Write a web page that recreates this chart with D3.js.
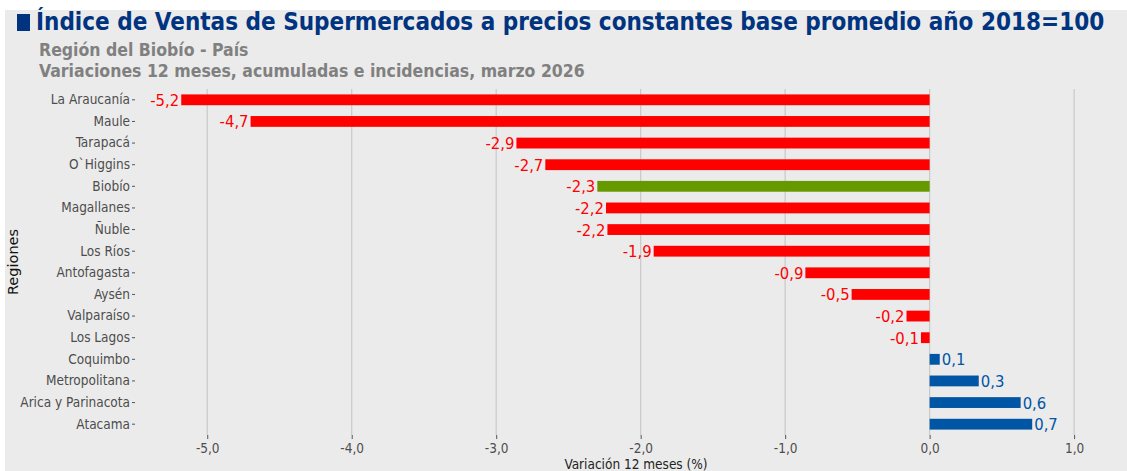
<!DOCTYPE html>
<html>
<head>
<meta charset="utf-8">
<script src="https://cdn.jsdelivr.net/npm/d3@7"></script>
<style>
  body { margin: 0; background: #ffffff; }
  svg { display: block; }
  .cond { font-family: "DejaVu Sans Condensed", "DejaVu Sans", sans-serif; }
</style>
</head>
<body>
<svg id="chart"></svg>
<script>
// data
var regions = ["La Araucanía", "Maule", "Tarapacá", "O`Higgins", "Biobío", "Magallanes", "Ñuble",
    "Los Ríos", "Antofagasta", "Aysén", "Valparaíso", "Los Lagos", "Coquimbo", "Metropolitana",
    "Arica y Parinacota", "Atacama"];
var values = [-5.18, -4.70, -2.86, -2.66, -2.30, -2.24, -2.23, -1.91, -0.86, -0.54, -0.16, -0.06,
    0.07, 0.34, 0.63, 0.71];
var highlight = "Biobío";
var xTicks = [-5, -4, -3, -2, -1, 0, 1];

var width = 1127, height = 471;
var margin = {top: 89, right: 24, bottom: 36, left: 135};

// comma decimals, plain hyphen for minus
var fmt = d => d3.format(".1f")(d).replace("−", "-").replace(".", ",");

var svg = d3.select("#chart")
    .attr("width", width)
    .attr("height", height);

// gray background
svg.append("rect")
    .attr("x", 5).attr("y", 10)
    .attr("width", width - 5).attr("height", height - 10)
    .attr("fill", "#ebebeb");

var x = d3.scaleLinear()
    .domain([-5.5, 1.2])
    .range([margin.left, width - margin.right]);

var y = d3.scaleBand()
    .domain(regions)
    .range([margin.top, height - margin.bottom])
    .paddingInner(0.5)
    .paddingOuter(0.25);

// vertical gridlines
svg.append("g")
    .selectAll("line")
    .data(xTicks)
    .join("line")
    .attr("x1", d => x(d)).attr("x2", d => x(d))
    .attr("y1", margin.top).attr("y2", height - margin.bottom)
    .attr("stroke", "#c9c9c9")
    .attr("stroke-width", 1.2);

// x axis
var xAxis = svg.append("g")
    .attr("transform", "translate(0," + (height - margin.bottom) + ")")
    .call(d3.axisBottom(x).tickValues(xTicks).tickSize(4).tickPadding(4).tickFormat(fmt));
xAxis.select(".domain").remove();
xAxis.selectAll("line").attr("stroke", "#555");
xAxis.selectAll("text")
    .attr("class", "cond")
    .attr("fill", "#4d4d4d")
    .style("font-size", "13.5px");

// y axis
var yAxis = svg.append("g")
    .attr("transform", "translate(" + margin.left + ",0)")
    .call(d3.axisLeft(y).tickSize(3).tickPadding(2));
yAxis.select(".domain").remove();
yAxis.selectAll("line").attr("stroke", "#555");
yAxis.selectAll("text")
    .attr("class", "cond")
    .attr("fill", "#4d4d4d")
    .style("font-size", "13.5px");

// bars
var color = (d, i) => regions[i] === highlight ? "#669900" : (d < 0 ? "#ff0000" : "#0055a5");
svg.append("g")
    .selectAll("rect")
    .data(values)
    .join("rect")
    .attr("x", d => x(Math.min(0, d)))
    .attr("y", (d, i) => y(regions[i]))
    .attr("width", d => Math.abs(x(d) - x(0)))
    .attr("height", y.bandwidth())
    .attr("fill", color);

// value labels
svg.append("g")
    .selectAll("text")
    .data(values)
    .join("text")
    .attr("class", "cond")
    .attr("x", d => d < 0 ? x(d) - 2 : x(d) + 2)
    .attr("y", (d, i) => y(regions[i]) + y.bandwidth() / 2)
    .attr("dy", "0.36em")
    .attr("text-anchor", d => d < 0 ? "end" : "start")
    .attr("fill", d => d < 0 ? "#ff0000" : "#0055a5")
    .style("font-size", "16.5px")
    .text(fmt);

// axis titles
svg.append("text")
    .attr("class", "cond")
    .attr("x", 636)
    .attr("y", 469)
    .attr("text-anchor", "middle")
    .attr("fill", "#222")
    .style("font-size", "13.5px")
    .text("Variación 12 meses (%)");

svg.append("text")
    .attr("transform", "translate(18," + ((margin.top + height - margin.bottom) / 2) + ") rotate(-90)")
    .attr("text-anchor", "middle")
    .attr("fill", "#111")
    .style("font-family", "DejaVu Sans, sans-serif")
    .style("font-size", "14.5px")
    .text("Regiones");

// titles
svg.append("rect")
    .attr("x", 17).attr("y", 14)
    .attr("width", 13).attr("height", 17)
    .attr("fill", "#003380");

svg.append("text")
    .attr("class", "cond")
    .attr("x", 36).attr("y", 30)
    .attr("fill", "#003380")
    .style("font-size", "24px")
    .style("font-weight", "bold")
    .text("Índice de Ventas de Supermercados a precios constantes base promedio año 2018=100");

svg.append("text")
    .attr("class", "cond")
    .attr("x", 39).attr("y", 56)
    .attr("fill", "#808080")
    .style("font-size", "17.5px")
    .style("font-weight", "bold")
    .text("Región del Biobío - País");

svg.append("text")
    .attr("class", "cond")
    .attr("x", 39).attr("y", 77)
    .attr("fill", "#808080")
    .style("font-size", "17.5px")
    .style("font-weight", "bold")
    .text("Variaciones 12 meses, acumuladas e incidencias, marzo 2026");
</script>
</body>
</html>
